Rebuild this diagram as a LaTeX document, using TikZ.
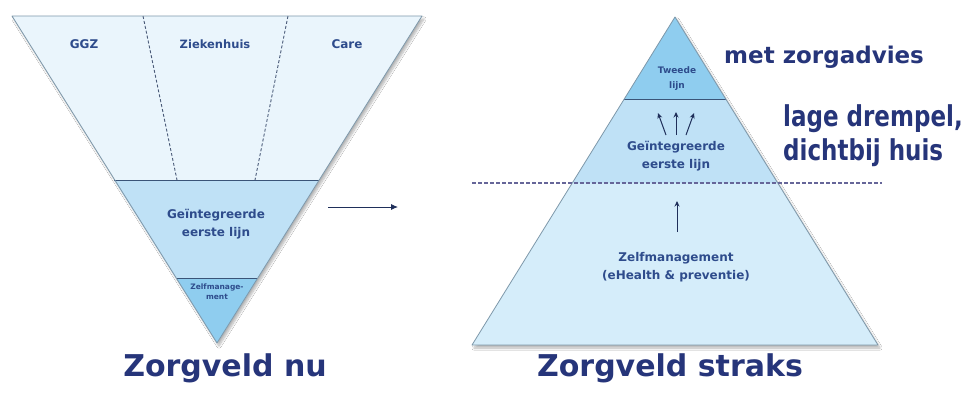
\documentclass[tikz,border=0pt]{standalone}
\usepackage{fontspec}
\setmainfont{DejaVu Sans}
\usetikzlibrary{arrows.meta,shadows.blur}
\definecolor{ltop}{HTML}{EAF5FC}
\definecolor{lmid}{HTML}{BFE1F6}
\definecolor{lbot}{HTML}{8FCDEF}
\definecolor{rtop}{HTML}{8FCDEF}
\definecolor{rmid}{HTML}{BFE1F6}
\definecolor{rbot}{HTML}{D5EDFA}
\definecolor{edgec}{HTML}{7E98AA}
\definecolor{secline}{HTML}{3A5478}
\definecolor{dashc}{HTML}{4A5A78}
\definecolor{lblc}{HTML}{2E4C8C}
\definecolor{bigc}{HTML}{26357A}
\definecolor{arrc}{HTML}{1F2F5A}
\tikzset{
  edgeline/.style={draw=edgec, line width=0.8pt, line join=round},
  secsep/.style={draw=secline, line width=1pt},
  dashsep/.style={draw=dashc, line width=0.9pt, dash pattern=on 3pt off 2pt},
  lbl/.style={text=lblc, align=center, font=\fontsize{12}{18}\selectfont\bfseries, inner sep=0pt},
  big/.style={text=bigc, font=\fontsize{23}{28}\selectfont\bfseries, inner sep=0pt},
  title/.style={font=\fontsize{30}{36}\selectfont\bfseries},
  uparr/.style={draw=arrc, line width=1pt, -{Stealth[length=5.5pt,width=5pt]}},
  tshadow/.style={blur shadow={shadow xshift=2pt, shadow yshift=-3pt, shadow opacity=30, shadow blur steps=8}}
}
\begin{document}
\begin{tikzpicture}[x=1pt,y=-1pt]
\useasboundingbox (0,0) rectangle (966,392);
\fill[white] (0,0) rectangle (966,392);

% ---------- left inverted triangle ----------
\coordinate (LTL) at (12,16);
\coordinate (LTR) at (422,16);
\coordinate (LA) at (217,343);
\coordinate (LML) at (114,180);
\coordinate (LMR) at (319,180);
\coordinate (LBL) at (176,278);
\coordinate (LBR) at (258,278);
\fill[ltop, tshadow] (LTL) -- (LTR) -- (LA) -- cycle;
\fill[lmid] (LML) -- (LMR) -- (LA) -- cycle;
\fill[lbot] (LBL) -- (LBR) -- (LA) -- cycle;
\draw[dashsep] (143,16) -- (177,180);
\draw[dashsep] (288,16) -- (255,180);
\draw[secsep] (LML) -- (LMR);
\draw[secsep, line width=0.8pt] (LBL) -- (LBR);
\draw[edgeline] (LTL) -- (LTR) -- (LA) -- cycle;

\node[lbl] (ggz) at (84,44) {GGZ};
\node[lbl, font=\fontsize{11.5}{14}\selectfont\bfseries] (zkh) at (215,44) {Ziekenhuis};
\node[lbl] (care) at (347,44) {Care};
\node[lbl] (gel) at (216,224) {Geïntegreerde\\eerste lijn};
\node[lbl, font=\fontsize{7.5}{10}\selectfont\bfseries] (zml) at (217,292) {Zelfmanage-\\ment};

% arrow between
\coordinate (arrA) at (328,207);
\coordinate (arrB) at (398,207);
\draw[draw=arrc, line width=0.9pt, -{Latex[length=7pt,width=6pt]}] (arrA) -- (arrB);

% ---------- right triangle ----------
\coordinate (RA) at (675,17);
\coordinate (RBL) at (472,345);
\coordinate (RBR) at (878,345);
\coordinate (RDL) at (572.3,183);
\coordinate (RDR) at (777.7,183);
\coordinate (RTL) at (624.3,99);
\coordinate (RTR) at (725.7,99);
\fill[rbot, tshadow] (RA) -- (RBR) -- (RBL) -- cycle;
\fill[rmid] (RA) -- (RDR) -- (RDL) -- cycle;
\fill[rtop] (RA) -- (RTR) -- (RTL) -- cycle;
\draw[secsep] (RTL) -- (RTR);
\draw[edgeline] (RA) -- (RBR) -- (RBL) -- cycle;
\coordinate (DL) at (472,183);
\coordinate (DR) at (882,183);
\draw[draw=gray!80!blue, line width=1.2pt, dash pattern=on 4pt off 2pt] (DL) -- (DR);

\node[lbl, font=\fontsize{9}{15}\selectfont\bfseries] (tw) at (677,79) {Tweede\\lijn};
\node[lbl] (ger) at (676,156) {Geïntegreerde\\eerste lijn};
\node[lbl] (zmr) at (676,267) {Zelfmanagement\\(eHealth \& preventie)};

\coordinate (a1s) at (666,135); \coordinate (a1e) at (658,113);
\coordinate (a2s) at (676,135); \coordinate (a2e) at (676,112);
\coordinate (a3s) at (686,135); \coordinate (a3e) at (694,113);
\draw[uparr] (a1s) -- (a1e);
\draw[uparr] (a2s) -- (a2e);
\draw[uparr] (a3s) -- (a3e);
\coordinate (a4s) at (677,232); \coordinate (a4e) at (677,201);
\draw[uparr] (a4s) -- (a4e);

% ---------- big texts ----------
\node[big, anchor=base west] (mz) at (724,63) {met zorgadvies};
\node[big, anchor=base west] (l1) at (783,126) {\scalebox{1}[1.25]{lage drempel,}};
\node[big, anchor=base west] (l2) at (783,160) {\scalebox{1}[1.25]{dichtbij huis}};

\node[big, title, anchor=base] (t1) at (225,376) {Zorgveld nu};
\node[big, title, anchor=base] (t2) at (670,376) {Zorgveld straks};
\end{tikzpicture}
\end{document}
